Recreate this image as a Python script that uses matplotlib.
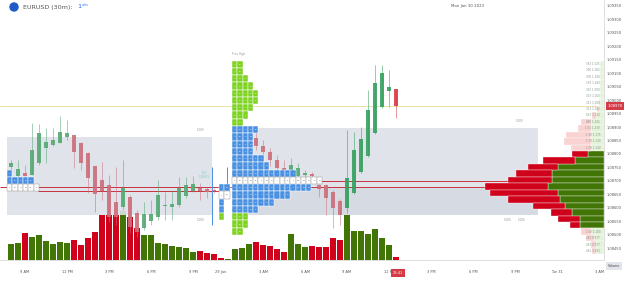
import numpy as np
import matplotlib.pyplot as plt
from matplotlib.patches import Rectangle, Ellipse
from matplotlib.ticker import FormatStrFormatter

# ========================================================= donnees EURUSD 30m

opens = [1.08751, 1.08718, 1.08729, 1.08722, 1.08766, 1.08822, 1.08833, 1.08841, 1.08863, 1.08870,
         1.08841, 1.08804, 1.08755, 1.08703, 1.08685, 1.08621, 1.08603, 1.08640, 1.08580, 1.08525,
         1.08551, 1.08566, 1.08607, 1.08603, 1.08610, 1.08644, 1.08662, 1.08673, 1.08670, 1.08666,
         1.08666, 1.08659, 1.08722, 1.08778, 1.08833, 1.08859, 1.08830, 1.08807, 1.08778, 1.08748,
         1.08733, 1.08718, 1.08722, 1.08725, 1.08685, 1.08685, 1.08659, 1.08625, 1.08599, 1.08655,
         1.08733, 1.08792, 1.08878, 1.08975, 1.09034, 1.09041]
highs = [1.08778, 1.08778, 1.08759, 1.08915, 1.08911, 1.08896, 1.08896, 1.08941, 1.08926, 1.08872,
         1.08843, 1.08806, 1.08757, 1.08770, 1.08722, 1.08751, 1.08778, 1.08647, 1.08592, 1.08621,
         1.08629, 1.08703, 1.08659, 1.08666, 1.08714, 1.08714, 1.08718, 1.08692, 1.08677, 1.08673,
         1.08670, 1.08666, 1.08815, 1.08896, 1.08896, 1.08882, 1.08852, 1.08822, 1.08796, 1.08778,
         1.08785, 1.08766, 1.08740, 1.08733, 1.08688, 1.08688, 1.08666, 1.08633, 1.08889, 1.08882,
         1.08900, 1.09038, 1.09131, 1.09131, 1.09112, 1.09043]
lows = [1.08740, 1.08714, 1.08714, 1.08720, 1.08759, 1.08766, 1.08830, 1.08839, 1.08852, 1.08748,
        1.08740, 1.08655, 1.08584, 1.08629, 1.08547, 1.08536, 1.08592, 1.08506, 1.08491, 1.08517,
        1.08536, 1.08554, 1.08554, 1.08554, 1.08603, 1.08636, 1.08659, 1.08629, 1.08636, 1.08655,
        1.08651, 1.08655, 1.08711, 1.08770, 1.08815, 1.08815, 1.08785, 1.08755, 1.08722, 1.08703,
        1.08722, 1.08711, 1.08703, 1.08696, 1.08640, 1.08573, 1.08525, 1.08536, 1.08580, 1.08651,
        1.08729, 1.08789, 1.08875, 1.08972, 1.08975, 1.08934]
closes = [1.08766, 1.08744, 1.08718, 1.08815, 1.08878, 1.08844, 1.08852, 1.08882, 1.08878, 1.08807,
          1.08766, 1.08711, 1.08651, 1.08662, 1.08566, 1.08566, 1.08673, 1.08528, 1.08510, 1.08577,
          1.08577, 1.08647, 1.08610, 1.08614, 1.08673, 1.08685, 1.08688, 1.08662, 1.08659, 1.08662,
          1.08659, 1.08662, 1.08778, 1.08852, 1.08870, 1.08830, 1.08807, 1.08778, 1.08748, 1.08725,
          1.08759, 1.08748, 1.08729, 1.08718, 1.08670, 1.08636, 1.08599, 1.08573, 1.08711, 1.08815,
          1.08856, 1.08963, 1.09064, 1.09101, 1.09049, 1.08978]
volumes = [1600, 1700, 2700, 2300, 2500, 1900, 1600, 1800, 1700, 2000,
           1500, 2200, 2800, 4500, 4500, 4500, 4900, 4300, 3200, 2500,
           2500, 1700, 1600, 1400, 1300, 1200, 800, 900, 700, 600,
           200, 100, 1100, 1200, 1600, 1800, 1500, 1400, 1100, 800,
           2600, 1600, 1300, 1400, 1300, 1300, 2200, 2000, 4500, 2900,
           2900, 2600, 3100, 2200, 1500, 300]

tick_pos = [2, 8, 14, 20, 26, 30, 36, 42, 48, 54, 60, 66, 72, 78, 84]
tick_labels = ["9 AM", "12 PM", "3 PM", "6 PM", "9 PM", "29 Jan", "3 AM", "6 AM",
               "9 AM", "12 PM", "3 PM", "6 PM", "9 PM", "Tue 31", "3 AM"]
price_ticks = [1.0845, 1.0850, 1.0855, 1.0860, 1.0865, 1.0870, 1.0875, 1.0880, 1.0885,
               1.0890, 1.0895, 1.0900, 1.0905, 1.0910, 1.0915, 1.0920, 1.0925, 1.0930, 1.0935]

# profil TPO (lettres)
tpo_top = 1.09147
tpo_step = 0.00027
main_counts = [2, 2, 3, 4, 5, 5, 4, 3, 2, 5, 4, 4, 4, 6, 7, 12, 17, 15, 11, 8, 5, 3, 3, 2]
main_kind = "GGGGGGGGGBBBBBBBWBBBBGGG"
sun_counts = [2, 2, 1, 1, 1]
sun_kind = "BWBBG"
fri_counts = [1, 5, 6]
fri_kind = "BBW"

# profil de volume (droite)
vp_top = 1.09147
vp_step = 0.00024
vp_buy = [40, 40, 40, 40, 40, 40, 40, 50, 80, 130, 130, 130, 130, 130,
          160, 290, 460, 520, 520, 560, 460, 440, 390, 320, 240, 240,
          130, 100, 80, 80]
vp_sell = [0, 0, 0, 0, 0, 0, 10, 20, 40, 100, 130, 250, 270, 200,
           160, 320, 300, 360, 440, 630, 680, 520, 320, 210, 220, 100,
           100, 80, 50, 40]
vp_labels = ["353 1.025", "300 1.282", "330 1.260", "339 1.283", "315 1.090", "313 1.050",
             "313 1.080", "313 1.200", "813 1.120", "880 1.241", "1.01 1.230", "1.00 1.175",
             "1.00 1.140", "1.00 1.140",
             "", "", "", "", "", "", "", "", "", "", "", "",
             "1.00 1.180", "453 0.977", "453 0.977", "461 1.881"]

# zones de valeur et POC
box_left = [-0.57, 31.57]
box_right = [28.71, 75.29]
box_high = [1.08863, 1.08896]
box_low = [1.08573, 1.08573]
poc_price = [1.08699, 1.08679, 1.08664]
poc_start = [31.57, -1.57, 3.86]
poc_end = [84.7, 84.7, 29.7]

# ========================================================= figure

fig = plt.figure(figsize=(6.25, 2.82), dpi=100)
rect = [0, 22 / 282, 604 / 625, 260 / 282]
xlim = (-11 / 7, 593 / 7)
ylim = (1.084058, 1.093723)

ax_v = fig.add_axes(rect)
ax = fig.add_axes(rect)
ax_vp = fig.add_axes(rect)

x = np.arange(len(opens))
o = np.array(opens)
c = np.array(closes)
up = c >= o

# volume en bas
ax_v.bar(x, volumes, width=0.76, color=np.where(up, "#417505", "#d0021b"), zorder=1)
ax_v.set_xlim(xlim)
ax_v.set_ylim(0, 26000)
ax_v.axis("off")

ax.patch.set_visible(False)
ax.set_xlim(xlim)
ax.set_ylim(ylim)

# zones grises
for l, r, hi, lo in zip(box_left, box_right, box_high, box_low):
    ax.add_patch(Rectangle((l, lo), r - l, hi - lo, fc="#dde1e8", ec="none", alpha=0.9, zorder=0.5))
ax.add_patch(Rectangle((31.57, 1.08573), 75.29 - 31.57, 1.08677 - 1.08573, fc="#c9d0db", ec="none", alpha=0.45, zorder=0.6))

ax.text(27.1, 1.08880, "1.009", fontsize=2, color="#999", ha="center", va="bottom")
ax.text(27.1, 1.08562, "1.006", fontsize=2, color="#999", ha="center", va="top")
ax.text(72.7, 1.08915, "1.009", fontsize=2, color="#999", ha="center", va="bottom")
ax.text(71.0, 1.08562, "1.006", fontsize=2, color="#999", ha="center", va="top")
ax.text(73.0, 1.08562, "1.006", fontsize=2, color="#999", ha="center", va="top")
ax.text(27.6, 1.08722, "POC\n1.08679", fontsize=2, color="#7ccfd0", ha="center", va="center", linespacing=1.0)

# niveaux
ax.axhline(closes[-1], color="#e8dc9a", lw=0.6, zorder=1)
for p, a, b in zip(poc_price, poc_start, poc_end):
    ax.hlines(p, a, b, color="#c8323e", lw=0.7, zorder=1.5)
ax.vlines([28.71, 30.86], [1.08536, 1.08640], [1.08751, 1.08751], color="#4a90e2", lw=0.7, zorder=1.5)

# bougies
old = x < 48
col_body = np.where(up, np.where(old, "#55a874", "#35a05e"), np.where(old, "#cb6f7b", "#d63a47"))
ax.vlines(x, lows, highs, colors=col_body, lw=0.5, alpha=0.75, zorder=2)
ax.bar(x, np.maximum(np.abs(c - o), 0.00004), bottom=np.minimum(o, c), width=0.62,
       color=col_body, alpha=0.9, zorder=3)

# profils TPO
blk_w = 5.3 / 7
tpo_colors = {"G": "#7ed321", "B": "#4a90e2", "W": "white"}


def draw_tpo(x0, counts, kinds, first_row):
    for r, (n, k) in enumerate(zip(counts, kinds)):
        top = tpo_top - (first_row + r) * tpo_step
        for j in range(n):
            ec = "#9a9a9a" if k == "W" else "white"
            ax.add_patch(Rectangle((x0 + j * blk_w, top - tpo_step), blk_w, tpo_step,
                                   fc=tpo_colors[k], ec=ec, lw=0.35, zorder=4))
            ax.text(x0 + (j + 0.5) * blk_w, top - tpo_step / 2, chr(65 + j % 26), fontsize=1.6,
                    color="#555" if k == "W" else "white", ha="center", va="center", zorder=5)


draw_tpo(31.57, main_counts, main_kind, 0)
draw_tpo(29.71, sun_counts, sun_kind, 17)
draw_tpo(-0.57, fri_counts, fri_kind, 15)
ax.text(31.6, 1.09172, "Prev High", fontsize=2, color="#999", ha="left", va="center")

# axes
for s in ["top", "left"]:
    ax.spines[s].set_visible(False)
ax.spines["bottom"].set_color("#d8d8d8")
ax.spines["right"].set_color("#d8d8d8")
ax.spines["bottom"].set_linewidth(0.6)
ax.spines["right"].set_linewidth(0.6)
ax.yaxis.tick_right()
ax.set_yticks(price_ticks)
ax.yaxis.set_major_formatter(FormatStrFormatter("%.5f"))
ax.tick_params(axis="y", length=0, pad=2.2, labelsize=2.6, labelcolor="#555")
ax.set_xticks(tick_pos)
ax.set_xticklabels(tick_labels)
ax.tick_params(axis="x", length=0, pad=7.5, labelsize=2.6, labelcolor="#555")
ax.set_ylim(ylim)

ax.annotate(f"{closes[-1]:.5f}", xy=(1, closes[-1]), xycoords=("axes fraction", "data"),
            xytext=(2.5, 0), textcoords="offset points", ha="left", va="center", fontsize=2.6,
            color="white", bbox=dict(boxstyle="square,pad=0.45", fc="#d63a47", ec="none"))
ax.annotate("28:41", xy=(55, 0), xycoords=("data", "axes fraction"), xytext=(1.5, -9.4),
            textcoords="offset points", ha="center", va="center", fontsize=2.6, color="white",
            bbox=dict(boxstyle="square,pad=0.45", fc="#d63a47", ec="none"))

# profil de volume a droite
ax_vp.patch.set_visible(False)
ax_vp.set_xlim(6040, 0)
ax_vp.set_ylim(ylim)
ax_vp.axis("off")
vp_bottom = [vp_top - (n + 1) * vp_step for n in range(len(vp_buy))]
in_va = [14 <= n <= 25 for n in range(len(vp_buy))]
ax_vp.barh(vp_bottom, vp_buy, height=vp_step, align="edge",
           color=["#417505" if v else "#e4f2da" for v in in_va], ec="white", lw=0.25, zorder=2)
ax_vp.barh(vp_bottom, vp_sell, left=vp_buy, height=vp_step, align="edge",
           color=["#d0021b" if v else "#f9d2d2" for v in in_va], ec="white", lw=0.25, zorder=2)
for b, lab in zip(vp_bottom, vp_labels):
    if lab:
        ax_vp.text(40, b + vp_step / 2, lab, fontsize=2, color="#8a9a8a", ha="right", va="center", zorder=3)

# en-tete
fig.add_artist(Ellipse((14 / 625, 1 - 7 / 282), 8 / 625, 8 / 282, color="#1e5bc6"))
fig.text(23 / 625, 1 - 7 / 282, "EURUSD (30m):", fontsize=4.6, color="#555", va="center")
fig.text(77 / 625, 1 - 7 / 282, "1", fontsize=4.6, color="#2962ff", va="center")
fig.text(82 / 625, 1 - 5 / 282, "units", fontsize=2, color="#2962ff", va="center")
fig.text(468 / 625, 1 - 6 / 282, "Mon Jan 30 2023", fontsize=2.8, color="#555", ha="center", va="center")
fig.text(614 / 625, 1 - 266 / 282, "Volume", fontsize=2.4, color="#444", ha="center", va="center",
         bbox=dict(boxstyle="square,pad=0.5", fc="#e2e5ec", ec="none"))

fig.savefig("out.png", dpi=100)
